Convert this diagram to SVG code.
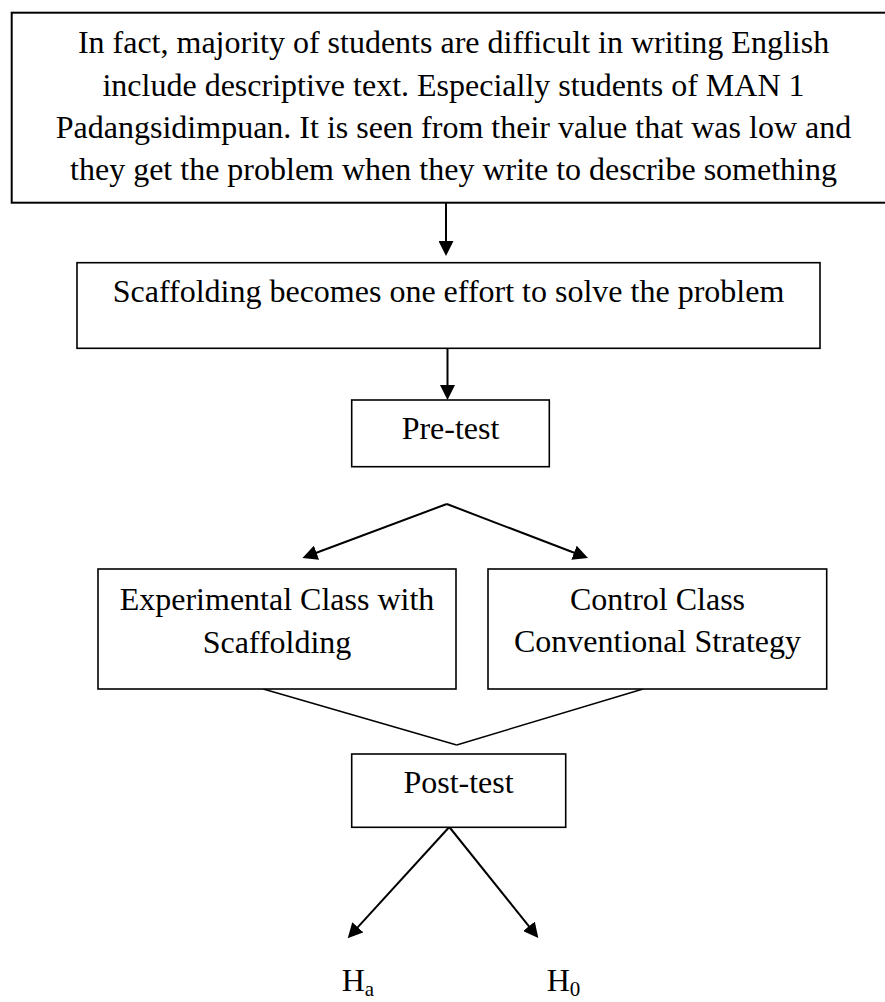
<svg xmlns="http://www.w3.org/2000/svg" width="885" height="1002" viewBox="0 0 885 1002">
<style>
  .box { fill: #fff; stroke: #000; stroke-width: 1.6; }
  .t { font-family: "Liberation Serif", "Times New Roman", serif; font-size: 32px; fill: #000; text-anchor: middle; }
  .ts { font-family: "Liberation Serif", "Times New Roman", serif; font-size: 32px; fill: #000; }
  .arr { stroke: #000; stroke-width: 2; fill: none; marker-end: url(#ah); }
  .ln { stroke: #000; stroke-width: 1.4; fill: none; }
</style>
<defs>
  <marker id="ah" markerUnits="userSpaceOnUse" markerWidth="15" markerHeight="15" refX="3" refY="7.5" orient="auto">
    <path d="M0,0 L15,7.5 L0,15 z" fill="#000"/>
  </marker>
</defs>
<rect width="885" height="1002" fill="#fff"/>

<g id="connectors">
  <line class="arr" x1="446" y1="203" x2="446" y2="244"/>
  <line class="arr" x1="447.5" y1="348" x2="447.5" y2="388"/>
  <line class="arr" x1="446.8" y1="504" x2="313.7" y2="553.8"/>
  <line class="arr" x1="446.8" y1="504" x2="576.8" y2="553.8"/>
  <line class="ln" x1="263.3" y1="689" x2="456.7" y2="745"/>
  <line class="ln" x1="643" y1="689" x2="456.7" y2="745"/>
  <line class="arr" x1="449.3" y1="827" x2="355.8" y2="929.4"/>
  <line class="arr" x1="449.3" y1="827" x2="530.8" y2="928.6"/>
</g>

<g id="problem">
  <rect class="box" x="11.7" y="12.7" width="884" height="190" style="stroke-width:2"/>
  <text class="t" x="453.5" y="53.3">In fact, majority of students are difficult in writing English</text>
  <text class="t" x="453.5" y="95.7">include descriptive text. Especially students of MAN 1</text>
  <text class="t" x="453.5" y="138">Padangsidimpuan. It is seen from their value that was low and</text>
  <text class="t" x="453.5" y="180.4">they get the problem when they write to describe something</text>
</g>

<g id="scaffolding">
  <rect class="box" x="77" y="262.7" width="743" height="85.6"/>
  <text class="t" x="448.5" y="301.7">Scaffolding becomes one effort to solve the problem</text>
</g>

<g id="pretest">
  <rect class="box" x="351.7" y="400" width="197.6" height="66.7"/>
  <text class="t" x="450.5" y="439.3">Pre-test</text>
</g>

<g id="experimental">
  <rect class="box" x="98" y="569" width="358" height="120"/>
  <text class="t" x="277" y="610">Experimental Class with</text>
  <text class="t" x="277" y="653">Scaffolding</text>
</g>

<g id="control">
  <rect class="box" x="488" y="569" width="338.7" height="120"/>
  <text class="t" x="657.5" y="610">Control Class</text>
  <text class="t" x="657.5" y="652">Conventional Strategy</text>
</g>

<g id="posttest">
  <rect class="box" x="351.7" y="754" width="214" height="73.3"/>
  <text class="t" x="458.5" y="792.7">Post-test</text>
</g>

<g id="ha">
  <text class="ts" x="341.7" y="991">H<tspan font-size="21" dy="5">a</tspan></text>
</g>
<g id="h0">
  <text class="ts" x="546.7" y="991">H<tspan font-size="21" dy="5">0</tspan></text>
</g>
</svg>
